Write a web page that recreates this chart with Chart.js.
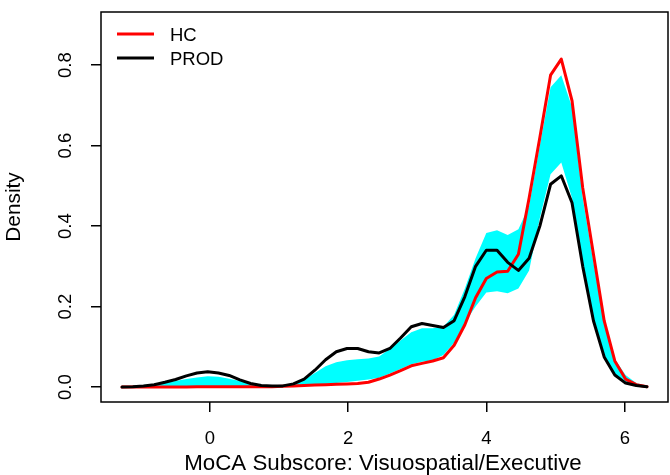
<!DOCTYPE html>
<html><head><meta charset="utf-8">
<script src="https://cdn.jsdelivr.net/npm/chart.js@4.4.1/dist/chart.umd.min.js"></script>
<style>html,body{margin:0;padding:0;background:#fff}canvas{display:block}</style>
</head><body>
<canvas id="c" width="670" height="475"></canvas>
<script>
const xGrid = [-1.27,-1.115,-0.96,-0.805,-0.65,-0.495,-0.34,-0.186,-0.031,0.124,
  0.279,0.434,0.589,0.744,0.899,1.054,1.208,1.363,1.518,1.673,
  1.828,1.983,2.138,2.293,2.448,2.603,2.757,2.912,3.067,3.222,
  3.377,3.532,3.687,3.842,3.997,4.152,4.306,4.461,4.616,4.771,
  4.926,5.081,5.236,5.391,5.546,5.701,5.855,6.01,6.165,6.32];
const hcDensity = [0,0,0,0,0,0,0,0.001,0.001,0.001,
  0.001,0.001,0.001,0.001,0.001,0.002,0.003,0.004,0.005,0.006,
  0.007,0.008,0.009,0.012,0.020,0.030,0.041,0.053,0.059,0.065,
  0.073,0.104,0.155,0.222,0.270,0.286,0.288,0.330,0.470,0.620,
  0.775,0.815,0.712,0.495,0.330,0.165,0.065,0.020,0.006,0.001];
const prodDensity = [0.000,0.001,0.003,0.006,0.012,0.019,0.028,0.035,0.038,0.035,
  0.029,0.018,0.009,0.004,0.003,0.003,0.008,0.020,0.042,0.068,
  0.088,0.096,0.096,0.088,0.085,0.096,0.122,0.150,0.158,0.153,
  0.148,0.165,0.225,0.300,0.340,0.340,0.310,0.290,0.320,0.400,
  0.504,0.525,0.458,0.300,0.165,0.075,0.030,0.010,0.004,0.001];
const bandUpper = [0.001,0.003,0.005,0.008,0.011,0.015,0.020,0.024,0.027,0.026,
  0.021,0.015,0.009,0.005,0.004,0.005,0.008,0.018,0.035,0.052,
  0.062,0.067,0.069,0.071,0.076,0.095,0.116,0.136,0.146,0.146,
  0.150,0.180,0.245,0.320,0.383,0.390,0.378,0.392,0.450,0.600,
  0.745,0.775,0.696,0.470,0.310,0.160,0.070,0.030,0.010,0.002];
const bandLower = [0,0,0,0,0,0,0,0,0,0.001,
  0.001,0.001,0.001,0.001,0.001,0.001,0.001,0.004,0.006,0.008,
  0.010,0.013,0.016,0.019,0.023,0.034,0.045,0.057,0.063,0.067,
  0.080,0.110,0.160,0.200,0.235,0.238,0.233,0.245,0.290,0.420,
  0.529,0.558,0.470,0.310,0.170,0.080,0.030,0.008,0.002,0];
const xTicks = [0,2,4,6];
const xTickLabels = ["0","2","4","6"];
const yTicks = [0,0.2,0.4,0.6,0.8];
const yTickLabels = ["0.0","0.2","0.4","0.6","0.8"];
const xTitle = "MoCA Subscore: Visuospatial/Executive";
const yTitle = "Density";
const seriesNames = ["HC","PROD"];
const seriesColors = ["#ff0000","#000000"];
const bandColor = "#00ffff";

const FAM = '"Liberation Sans", Arial, sans-serif';
const FONT = '18.5px ' + FAM;
const pts = arr => xGrid.map((x,i)=>({x:x,y:arr[i]}));

const textPlugin = {
  id:'rtext',
  afterDraw(chart){
    const ctx = chart.ctx, a = chart.chartArea;
    const xs = chart.scales.x, ys = chart.scales.y;
    ctx.save();
    ctx.strokeStyle = '#000'; ctx.lineWidth = 1.5;
    ctx.strokeRect(a.left, a.top, a.right-a.left, a.bottom-a.top);
    ctx.fillStyle = '#000'; ctx.font = FONT;
    ctx.textAlign = 'center'; ctx.textBaseline = 'alphabetic';
    xTicks.forEach((v,i)=>{ ctx.fillText(xTickLabels[i], xs.getPixelForValue(v), 444); });
    ctx.font = '22.3px ' + FAM;
    ctx.fillText(xTitle, 383, 470);
    ctx.font = FONT;
    yTicks.forEach((v,i)=>{
      ctx.save(); ctx.translate(71, ys.getPixelForValue(v)); ctx.rotate(-Math.PI/2);
      ctx.fillText(yTickLabels[i], 0, 0); ctx.restore();
    });
    ctx.font = '20.8px ' + FAM;
    ctx.save(); ctx.translate(20, (a.top+a.bottom)/2); ctx.rotate(-Math.PI/2);
    ctx.fillText(yTitle, 0, 0); ctx.restore();
    ctx.font = FONT;
    const ly = [34, 58];
    ctx.textAlign = 'left';
    seriesNames.forEach((n,i)=>{
      ctx.strokeStyle = seriesColors[i]; ctx.lineWidth = 3; ctx.lineCap='butt';
      ctx.beginPath(); ctx.moveTo(117, ly[i]); ctx.lineTo(154, ly[i]); ctx.stroke();
      ctx.fillStyle = '#000';
      ctx.fillText(n, 170, ly[i]+6.6);
    });
    ctx.restore();
  }
};

const axisCommon = {
  type:'linear',
  grid:{drawOnChartArea:false, drawTicks:true, tickLength:10, color:'#000', lineWidth:1.5},
  border:{display:false},
  ticks:{display:false}
};

new Chart(document.getElementById('c'), {
  type:'line',
  data:{datasets:[
    {label:'lower', data:pts(bandLower), borderWidth:0, borderColor:'rgba(0,0,0,0)', pointRadius:0, fill:false, order:3},
    {label:'upper', data:pts(bandUpper), borderWidth:0, borderColor:'rgba(0,0,0,0)', backgroundColor:bandColor, pointRadius:0, fill:'-1', order:2},
    {label:seriesNames[0], data:pts(hcDensity), borderColor:seriesColors[0], borderWidth:3, pointRadius:0, fill:false, tension:0, borderJoinStyle:'round', borderCapStyle:'round', order:1},
    {label:seriesNames[1], data:pts(prodDensity), borderColor:seriesColors[1], borderWidth:3, pointRadius:0, fill:false, tension:0, borderJoinStyle:'round', borderCapStyle:'round', order:0}
  ]},
  options:{
    responsive:false, animation:false, devicePixelRatio:1,
    layout:{padding:{left:0,right:2,top:12,bottom:0}},
    plugins:{legend:{display:false}, tooltip:{enabled:false}},
    scales:{
      x:Object.assign({}, axisCommon, {min:-1.574, max:6.624,
        afterBuildTicks:s=>{s.ticks = xTicks.map(v=>({value:v}));},
        afterFit:s=>{s.height = 73;}}),
      y:Object.assign({}, axisCommon, {min:-0.037, max:0.932,
        afterBuildTicks:s=>{s.ticks = yTicks.map(v=>({value:v}));},
        afterFit:s=>{s.width = 101;}})
    }
  },
  plugins:[textPlugin]
});
</script>
</body></html>
